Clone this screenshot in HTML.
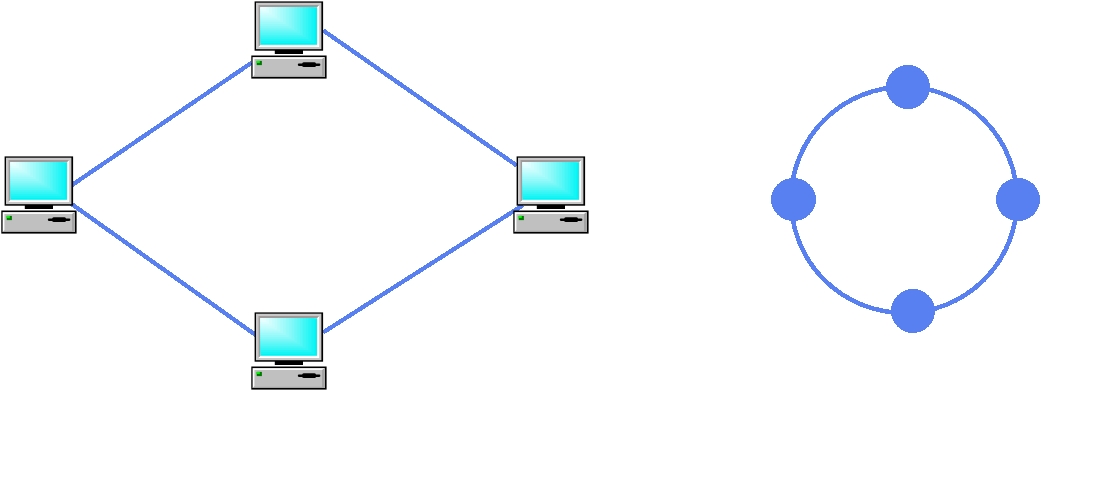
<!DOCTYPE html>
<html>
<head>
<meta charset="utf-8">
<style>
html,body{margin:0;padding:0;background:#fff;width:1094px;height:503px;overflow:hidden;font-family:"Liberation Sans",sans-serif;}
svg{display:block;position:absolute;left:0;top:0;}
</style>
</head>
<body>
<svg width="1094" height="503" viewBox="0 0 1094 503">
<defs>
  <filter id="soft" x="-5%" y="-5%" width="110%" height="110%"><feGaussianBlur stdDeviation="0.3"/></filter>

  <g id="pc">
    <rect x="4.6" y="1.4" width="68.5" height="49.3" fill="#000"/>
    <rect x="6" y="2.7" width="65.4" height="46.5" fill="#c8c8c8"/>
    <rect x="8.3" y="5.1" width="60.9" height="41.9" fill="#fff"/>
    <polygon points="8.3,5.1 69.2,5.1 67,7.2 10.6,7.2 10.6,44.8 8.3,47" fill="#a09a9a"/>
    <rect x="10.6" y="7.2" width="56.40" height="37.60" fill="#04f4f4"/>
    <rect x="10.6" y="7.2" width="53.58" height="35.72" fill="#19f5f5"/>
    <rect x="10.6" y="7.2" width="50.76" height="33.84" fill="#27f5f5"/>
    <rect x="10.6" y="7.2" width="47.94" height="31.96" fill="#35f6f6"/>
    <rect x="10.6" y="7.2" width="45.12" height="30.08" fill="#43f6f6"/>
    <rect x="10.6" y="7.2" width="42.30" height="28.20" fill="#52f7f7"/>
    <rect x="10.6" y="7.2" width="39.48" height="26.32" fill="#60f7f7"/>
    <rect x="10.6" y="7.2" width="36.66" height="24.44" fill="#6ef7f7"/>
    <rect x="10.6" y="7.2" width="33.84" height="22.56" fill="#7df8f8"/>
    <rect x="10.6" y="7.2" width="31.02" height="20.68" fill="#89f8f8"/>
    <rect x="10.6" y="7.2" width="28.20" height="18.80" fill="#94f9f9"/>
    <rect x="10.6" y="7.2" width="25.38" height="16.92" fill="#9ffafa"/>
    <rect x="10.6" y="7.2" width="22.56" height="15.04" fill="#a9fafa"/>
    <rect x="10.6" y="7.2" width="19.74" height="13.16" fill="#b4fbfb"/>
    <rect x="10.6" y="7.2" width="16.92" height="11.28" fill="#bffcfc"/>
    <rect x="10.6" y="7.2" width="14.10" height="9.40" fill="#c9fcfc"/>
    <rect x="10.6" y="7.2" width="11.28" height="7.52" fill="#d2fdfd"/>
    <rect x="10.6" y="7.2" width="8.46" height="5.64" fill="#dcfefe"/>
    <rect x="10.6" y="7.2" width="5.64" height="3.76" fill="#e6fefe"/>
    <rect x="10.6" y="7.2" width="2.82" height="1.88" fill="#efffff"/>
    <rect x="24.8" y="50.0" width="28.2" height="4.0" fill="#000"/>
    <rect x="1.3" y="55.5" width="75.3" height="23.1" fill="#000"/>
    <rect x="2.6" y="57.1" width="72.2" height="19.9" fill="#fff"/>
    <polygon points="74.8,57.1 74.8,77 2.6,77 4.4,75.2 72.0,75.2 72.0,58.9" fill="#a4a4a4"/>
    <rect x="4.4" y="58.9" width="67.6" height="16.3" fill="#c0c0c0"/>
    <rect x="6.7" y="60.9" width="5.2" height="4.2" fill="#007a00"/>
    <rect x="6.7" y="60.9" width="3.1" height="2.0" fill="#00ff00"/>
    <rect x="47.8" y="63.6" width="22.6" height="2.3" rx="1.1" fill="#000"/>
    <rect x="52.2" y="62.2" width="13.8" height="4.8" rx="1.5" fill="#000"/>
  </g>
</defs>
<g stroke="#5880f0" stroke-width="4.3" fill="none" shape-rendering="crispEdges">
  <line x1="70" y1="186.4" x2="251.5" y2="62.8"/>
  <line x1="70" y1="202.9" x2="256" y2="335.2"/>
  <line x1="323" y1="30.3" x2="517" y2="165.7"/>
  <line x1="323" y1="332.5" x2="523" y2="205.1"/>
</g>
<g filter="url(#soft)">
<use href="#pc" x="250" y="0"/>
<use href="#pc" x="0" y="155"/>
<use href="#pc" x="512" y="155"/>
<use href="#pc" x="250" y="311"/>
</g>
<g shape-rendering="crispEdges" fill="#5880f0">
  <circle cx="904.1" cy="199.9" r="113" fill="none" stroke="#5880f0" stroke-width="4.6"/>
  <ellipse cx="908" cy="87" rx="22" ry="22"/>
  <ellipse cx="913" cy="311" rx="22" ry="22"/>
  <ellipse cx="793.5" cy="199.5" rx="22.5" ry="21.5"/>
  <ellipse cx="1018" cy="199.5" rx="22" ry="21.5"/>
</g>
</svg>
</body>
</html>
